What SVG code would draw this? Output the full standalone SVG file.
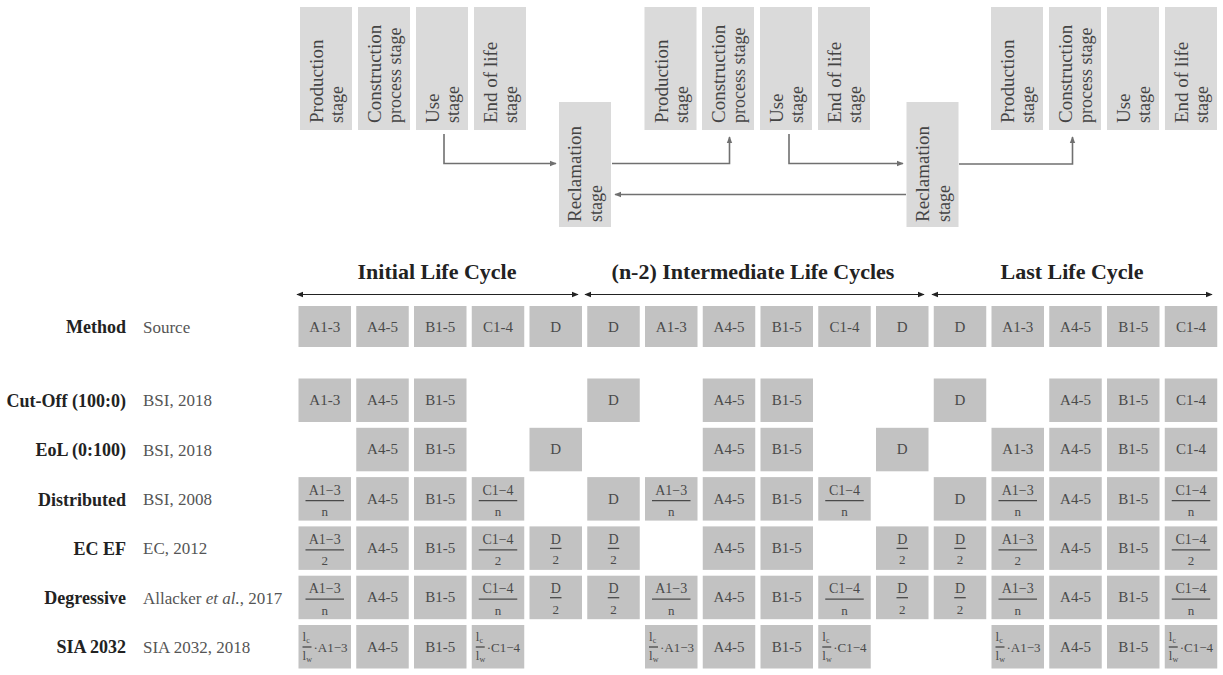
<svg xmlns="http://www.w3.org/2000/svg" width="1223" height="675" viewBox="0 0 1223 675">
<style>
  .bg{fill:#ffffff}
  .cell rect{fill:#c2c2c2}
  .ct{font-family:"Liberation Serif",serif;font-size:15px;fill:#4a4a4a;text-anchor:middle}
  .num{font-size:14px}
  .den{font-size:13px}
  .sm{font-family:"Liberation Serif",serif;font-size:13px;fill:#4a4a4a}
  .sia{font-family:"Liberation Serif",serif;font-size:13px;fill:#4a4a4a}
  .bar{stroke:#4a4a4a;stroke-width:1.3}
  .stage rect{fill:#dadada}
  .st1{font-family:"Liberation Serif",serif;font-size:19px;fill:#444}
  .st2{font-family:"Liberation Serif",serif;font-size:18px;fill:#444}
  .lab{font-family:"Liberation Serif",serif;font-size:18px;font-weight:bold;fill:#222;text-anchor:end}
  .src{font-family:"Liberation Serif",serif;font-size:17px;fill:#555}
  .hdr{font-family:"Liberation Serif",serif;font-size:22px;font-weight:bold;fill:#222;text-anchor:middle}
  .conn{stroke:#707070;stroke-width:1.6;fill:none}
  .span{stroke:#222;stroke-width:1;fill:none}
</style>
<defs>
  <marker id="arrG" viewBox="0 0 10 10" refX="9" refY="5" markerWidth="7" markerHeight="7" markerUnits="userSpaceOnUse" orient="auto-start-reverse"><path d="M0,1 L10,5 L0,9 z" fill="#707070"/></marker>
  <marker id="arrK" viewBox="0 0 10 10" refX="9" refY="5" markerWidth="7" markerHeight="7" markerUnits="userSpaceOnUse" orient="auto-start-reverse"><path d="M0,1 L10,5 L0,9 z" fill="#222"/></marker>
</defs>
<rect class="bg" x="0" y="0" width="1223" height="675"/>

<!-- Stage boxes -->
<g id="stage-prod-1" class="stage"><rect x="300" y="7" width="52" height="123"/><text class="st1" transform="translate(323,123) rotate(-90)">Production</text><text class="st2" transform="translate(343,123) rotate(-90)">stage</text></g>
<g id="stage-cons-1" class="stage"><rect x="358" y="7" width="52" height="123"/><text class="st1" transform="translate(381,123) rotate(-90)">Construction</text><text class="st2" transform="translate(401,123) rotate(-90)">process stage</text></g>
<g id="stage-use-1" class="stage"><rect x="416" y="7" width="52" height="123"/><text class="st1" transform="translate(439,123) rotate(-90)">Use</text><text class="st2" transform="translate(459,123) rotate(-90)">stage</text></g>
<g id="stage-eol-1" class="stage"><rect x="474" y="7" width="52" height="123"/><text class="st1" transform="translate(497,123) rotate(-90)">End of life</text><text class="st2" transform="translate(517,123) rotate(-90)">stage</text></g>
<g id="stage-rec-1" class="stage"><rect x="559" y="102" width="52" height="125"/><text class="st1" transform="translate(581,222) rotate(-90)">Reclamation</text><text class="st2" transform="translate(602,222) rotate(-90)">stage</text></g>
<g id="stage-prod-2" class="stage"><rect x="644.5" y="7" width="52" height="123"/><text class="st1" transform="translate(667.5,123) rotate(-90)">Production</text><text class="st2" transform="translate(687.5,123) rotate(-90)">stage</text></g>
<g id="stage-cons-2" class="stage"><rect x="702" y="7" width="52" height="123"/><text class="st1" transform="translate(725,123) rotate(-90)">Construction</text><text class="st2" transform="translate(745,123) rotate(-90)">process stage</text></g>
<g id="stage-use-2" class="stage"><rect x="760" y="7" width="52" height="123"/><text class="st1" transform="translate(783,123) rotate(-90)">Use</text><text class="st2" transform="translate(803,123) rotate(-90)">stage</text></g>
<g id="stage-eol-2" class="stage"><rect x="818" y="7" width="52" height="123"/><text class="st1" transform="translate(841,123) rotate(-90)">End of life</text><text class="st2" transform="translate(861,123) rotate(-90)">stage</text></g>
<g id="stage-rec-2" class="stage"><rect x="906.5" y="102" width="52" height="125"/><text class="st1" transform="translate(928.5,222) rotate(-90)">Reclamation</text><text class="st2" transform="translate(949.5,222) rotate(-90)">stage</text></g>
<g id="stage-prod-3" class="stage"><rect x="991" y="7" width="52" height="123"/><text class="st1" transform="translate(1014,123) rotate(-90)">Production</text><text class="st2" transform="translate(1034,123) rotate(-90)">stage</text></g>
<g id="stage-cons-3" class="stage"><rect x="1049" y="7" width="52" height="123"/><text class="st1" transform="translate(1072,123) rotate(-90)">Construction</text><text class="st2" transform="translate(1092,123) rotate(-90)">process stage</text></g>
<g id="stage-use-3" class="stage"><rect x="1107" y="7" width="52" height="123"/><text class="st1" transform="translate(1130,123) rotate(-90)">Use</text><text class="st2" transform="translate(1150,123) rotate(-90)">stage</text></g>
<g id="stage-eol-3" class="stage"><rect x="1165" y="7" width="52" height="123"/><text class="st1" transform="translate(1188,123) rotate(-90)">End of life</text><text class="st2" transform="translate(1208,123) rotate(-90)">stage</text></g>

<!-- Connectors -->
<g id="connectors">
  <path class="conn" d="M444,134 V163.5 H556" marker-end="url(#arrG)"/>
  <path class="conn" d="M612,163.5 H729.5 V137" marker-end="url(#arrG)"/>
  <path class="conn" d="M789,134 V163.5 H903" marker-end="url(#arrG)"/>
  <path class="conn" d="M906,194.5 H615" marker-end="url(#arrG)"/>
  <path class="conn" d="M959,164 H1072.5 V137" marker-end="url(#arrG)"/>
</g>

<!-- Life cycle headers -->
<g id="cycle-headers">
  <text class="hdr" x="437" y="279">Initial Life Cycle</text>
  <text class="hdr" x="753" y="279">(n-2) Intermediate Life Cycles</text>
  <text class="hdr" x="1072" y="279">Last Life Cycle</text>
  <path class="span" d="M297,294.5 H578" marker-start="url(#arrK)" marker-end="url(#arrK)"/>
  <path class="span" d="M585,294.5 H924" marker-start="url(#arrK)" marker-end="url(#arrK)"/>
  <path class="span" d="M932,294.5 H1212" marker-start="url(#arrK)" marker-end="url(#arrK)"/>
</g>

<!-- Row labels -->
<g id="row-labels">
  <text class="lab" x="126" y="333">Method</text><text class="src" x="143" y="332.5">Source</text>
  <text class="lab" x="126" y="406.5">Cut-Off (100:0)</text><text class="src" x="143" y="406">BSI, 2018</text>
  <text class="lab" x="126" y="456">EoL (0:100)</text><text class="src" x="143" y="455.5">BSI, 2018</text>
  <text class="lab" x="126" y="505.5">Distributed</text><text class="src" x="143" y="505">BSI, 2008</text>
  <text class="lab" x="126" y="554.5">EC EF</text><text class="src" x="143" y="554">EC, 2012</text>
  <text class="lab" x="126" y="604">Degressive</text><text class="src" x="143" y="603.5">Allacker <tspan font-style="italic">et al.</tspan>, 2017</text>
  <text class="lab" x="126" y="653">SIA 2032</text><text class="src" x="143" y="652.5">SIA 2032, 2018</text>
</g>

<!-- Method row -->
<g id="row-method" class="cell">
  <g transform="translate(298.5,306)"><rect width="52.5" height="41"/><text class="ct" x="26.25" y="25.5">A1-3</text></g>
  <g transform="translate(356.25,306)"><rect width="52.5" height="41"/><text class="ct" x="26.25" y="25.5">A4-5</text></g>
  <g transform="translate(414,306)"><rect width="52.5" height="41"/><text class="ct" x="26.25" y="25.5">B1-5</text></g>
  <g transform="translate(471.75,306)"><rect width="52.5" height="41"/><text class="ct" x="26.25" y="25.5">C1-4</text></g>
  <g transform="translate(529.5,306)"><rect width="52.5" height="41"/><text class="ct" x="26.25" y="25.5">D</text></g>
  <g transform="translate(587.25,306)"><rect width="52.5" height="41"/><text class="ct" x="26.25" y="25.5">D</text></g>
  <g transform="translate(645,306)"><rect width="52.5" height="41"/><text class="ct" x="26.25" y="25.5">A1-3</text></g>
  <g transform="translate(702.75,306)"><rect width="52.5" height="41"/><text class="ct" x="26.25" y="25.5">A4-5</text></g>
  <g transform="translate(760.5,306)"><rect width="52.5" height="41"/><text class="ct" x="26.25" y="25.5">B1-5</text></g>
  <g transform="translate(818.25,306)"><rect width="52.5" height="41"/><text class="ct" x="26.25" y="25.5">C1-4</text></g>
  <g transform="translate(876,306)"><rect width="52.5" height="41"/><text class="ct" x="26.25" y="25.5">D</text></g>
  <g transform="translate(933.75,306)"><rect width="52.5" height="41"/><text class="ct" x="26.25" y="25.5">D</text></g>
  <g transform="translate(991.5,306)"><rect width="52.5" height="41"/><text class="ct" x="26.25" y="25.5">A1-3</text></g>
  <g transform="translate(1049.25,306)"><rect width="52.5" height="41"/><text class="ct" x="26.25" y="25.5">A4-5</text></g>
  <g transform="translate(1107,306)"><rect width="52.5" height="41"/><text class="ct" x="26.25" y="25.5">B1-5</text></g>
  <g transform="translate(1164.75,306)"><rect width="52.5" height="41"/><text class="ct" x="26.25" y="25.5">C1-4</text></g>
</g>

<!-- Cut-Off row -->
<g id="row-cutoff" class="cell">
  <g transform="translate(298.5,378.5)"><rect width="52.5" height="43.5"/><text class="ct" x="26.25" y="26.5">A1-3</text></g>
  <g transform="translate(356.25,378.5)"><rect width="52.5" height="43.5"/><text class="ct" x="26.25" y="26.5">A4-5</text></g>
  <g transform="translate(414,378.5)"><rect width="52.5" height="43.5"/><text class="ct" x="26.25" y="26.5">B1-5</text></g>
  <g transform="translate(587.25,378.5)"><rect width="52.5" height="43.5"/><text class="ct" x="26.25" y="26.5">D</text></g>
  <g transform="translate(702.75,378.5)"><rect width="52.5" height="43.5"/><text class="ct" x="26.25" y="26.5">A4-5</text></g>
  <g transform="translate(760.5,378.5)"><rect width="52.5" height="43.5"/><text class="ct" x="26.25" y="26.5">B1-5</text></g>
  <g transform="translate(933.75,378.5)"><rect width="52.5" height="43.5"/><text class="ct" x="26.25" y="26.5">D</text></g>
  <g transform="translate(1049.25,378.5)"><rect width="52.5" height="43.5"/><text class="ct" x="26.25" y="26.5">A4-5</text></g>
  <g transform="translate(1107,378.5)"><rect width="52.5" height="43.5"/><text class="ct" x="26.25" y="26.5">B1-5</text></g>
  <g transform="translate(1164.75,378.5)"><rect width="52.5" height="43.5"/><text class="ct" x="26.25" y="26.5">C1-4</text></g>
</g>

<!-- EoL row -->
<g id="row-eol" class="cell">
  <g transform="translate(356.25,427.8)"><rect width="52.5" height="43.5"/><text class="ct" x="26.25" y="26.5">A4-5</text></g>
  <g transform="translate(414,427.8)"><rect width="52.5" height="43.5"/><text class="ct" x="26.25" y="26.5">B1-5</text></g>
  <g transform="translate(529.5,427.8)"><rect width="52.5" height="43.5"/><text class="ct" x="26.25" y="26.5">D</text></g>
  <g transform="translate(702.75,427.8)"><rect width="52.5" height="43.5"/><text class="ct" x="26.25" y="26.5">A4-5</text></g>
  <g transform="translate(760.5,427.8)"><rect width="52.5" height="43.5"/><text class="ct" x="26.25" y="26.5">B1-5</text></g>
  <g transform="translate(876,427.8)"><rect width="52.5" height="43.5"/><text class="ct" x="26.25" y="26.5">D</text></g>
  <g transform="translate(991.5,427.8)"><rect width="52.5" height="43.5"/><text class="ct" x="26.25" y="26.5">A1-3</text></g>
  <g transform="translate(1049.25,427.8)"><rect width="52.5" height="43.5"/><text class="ct" x="26.25" y="26.5">A4-5</text></g>
  <g transform="translate(1107,427.8)"><rect width="52.5" height="43.5"/><text class="ct" x="26.25" y="26.5">B1-5</text></g>
  <g transform="translate(1164.75,427.8)"><rect width="52.5" height="43.5"/><text class="ct" x="26.25" y="26.5">C1-4</text></g>
</g>

<!-- Distributed row -->
<g id="row-distributed" class="cell">
  <g transform="translate(298.5,477.1)"><rect width="52.5" height="43.5"/><text class="ct num" x="26.25" y="17.5">A1−3</text><line class="bar" x1="7" x2="45.5" y1="23.5" y2="23.5"/><text class="ct den" x="26.25" y="39">n</text></g>
  <g transform="translate(356.25,477.1)"><rect width="52.5" height="43.5"/><text class="ct" x="26.25" y="26.5">A4-5</text></g>
  <g transform="translate(414,477.1)"><rect width="52.5" height="43.5"/><text class="ct" x="26.25" y="26.5">B1-5</text></g>
  <g transform="translate(471.75,477.1)"><rect width="52.5" height="43.5"/><text class="ct num" x="26.25" y="17.5">C1−4</text><line class="bar" x1="7" x2="45.5" y1="23.5" y2="23.5"/><text class="ct den" x="26.25" y="39">n</text></g>
  <g transform="translate(587.25,477.1)"><rect width="52.5" height="43.5"/><text class="ct" x="26.25" y="26.5">D</text></g>
  <g transform="translate(645,477.1)"><rect width="52.5" height="43.5"/><text class="ct num" x="26.25" y="17.5">A1−3</text><line class="bar" x1="7" x2="45.5" y1="23.5" y2="23.5"/><text class="ct den" x="26.25" y="39">n</text></g>
  <g transform="translate(702.75,477.1)"><rect width="52.5" height="43.5"/><text class="ct" x="26.25" y="26.5">A4-5</text></g>
  <g transform="translate(760.5,477.1)"><rect width="52.5" height="43.5"/><text class="ct" x="26.25" y="26.5">B1-5</text></g>
  <g transform="translate(818.25,477.1)"><rect width="52.5" height="43.5"/><text class="ct num" x="26.25" y="17.5">C1−4</text><line class="bar" x1="7" x2="45.5" y1="23.5" y2="23.5"/><text class="ct den" x="26.25" y="39">n</text></g>
  <g transform="translate(933.75,477.1)"><rect width="52.5" height="43.5"/><text class="ct" x="26.25" y="26.5">D</text></g>
  <g transform="translate(991.5,477.1)"><rect width="52.5" height="43.5"/><text class="ct num" x="26.25" y="17.5">A1−3</text><line class="bar" x1="7" x2="45.5" y1="23.5" y2="23.5"/><text class="ct den" x="26.25" y="39">n</text></g>
  <g transform="translate(1049.25,477.1)"><rect width="52.5" height="43.5"/><text class="ct" x="26.25" y="26.5">A4-5</text></g>
  <g transform="translate(1107,477.1)"><rect width="52.5" height="43.5"/><text class="ct" x="26.25" y="26.5">B1-5</text></g>
  <g transform="translate(1164.75,477.1)"><rect width="52.5" height="43.5"/><text class="ct num" x="26.25" y="17.5">C1−4</text><line class="bar" x1="7" x2="45.5" y1="23.5" y2="23.5"/><text class="ct den" x="26.25" y="39">n</text></g>
</g>

<!-- EC EF row -->
<g id="row-ecef" class="cell">
  <g transform="translate(298.5,526.4)"><rect width="52.5" height="43.5"/><text class="ct num" x="26.25" y="17.5">A1−3</text><line class="bar" x1="7" x2="45.5" y1="23.5" y2="23.5"/><text class="ct den" x="26.25" y="39">2</text></g>
  <g transform="translate(356.25,526.4)"><rect width="52.5" height="43.5"/><text class="ct" x="26.25" y="26.5">A4-5</text></g>
  <g transform="translate(414,526.4)"><rect width="52.5" height="43.5"/><text class="ct" x="26.25" y="26.5">B1-5</text></g>
  <g transform="translate(471.75,526.4)"><rect width="52.5" height="43.5"/><text class="ct num" x="26.25" y="17.5">C1−4</text><line class="bar" x1="7" x2="45.5" y1="23.5" y2="23.5"/><text class="ct den" x="26.25" y="39">2</text></g>
  <g transform="translate(529.5,526.4)"><rect width="52.5" height="43.5"/><text class="ct num" x="26.25" y="17.5">D</text><line class="bar" x1="20.5" x2="32" y1="22" y2="22"/><text class="ct den" x="26.25" y="38">2</text></g>
  <g transform="translate(587.25,526.4)"><rect width="52.5" height="43.5"/><text class="ct num" x="26.25" y="17.5">D</text><line class="bar" x1="20.5" x2="32" y1="22" y2="22"/><text class="ct den" x="26.25" y="38">2</text></g>
  <g transform="translate(702.75,526.4)"><rect width="52.5" height="43.5"/><text class="ct" x="26.25" y="26.5">A4-5</text></g>
  <g transform="translate(760.5,526.4)"><rect width="52.5" height="43.5"/><text class="ct" x="26.25" y="26.5">B1-5</text></g>
  <g transform="translate(876,526.4)"><rect width="52.5" height="43.5"/><text class="ct num" x="26.25" y="17.5">D</text><line class="bar" x1="20.5" x2="32" y1="22" y2="22"/><text class="ct den" x="26.25" y="38">2</text></g>
  <g transform="translate(933.75,526.4)"><rect width="52.5" height="43.5"/><text class="ct num" x="26.25" y="17.5">D</text><line class="bar" x1="20.5" x2="32" y1="22" y2="22"/><text class="ct den" x="26.25" y="38">2</text></g>
  <g transform="translate(991.5,526.4)"><rect width="52.5" height="43.5"/><text class="ct num" x="26.25" y="17.5">A1−3</text><line class="bar" x1="7" x2="45.5" y1="23.5" y2="23.5"/><text class="ct den" x="26.25" y="39">2</text></g>
  <g transform="translate(1049.25,526.4)"><rect width="52.5" height="43.5"/><text class="ct" x="26.25" y="26.5">A4-5</text></g>
  <g transform="translate(1107,526.4)"><rect width="52.5" height="43.5"/><text class="ct" x="26.25" y="26.5">B1-5</text></g>
  <g transform="translate(1164.75,526.4)"><rect width="52.5" height="43.5"/><text class="ct num" x="26.25" y="17.5">C1−4</text><line class="bar" x1="7" x2="45.5" y1="23.5" y2="23.5"/><text class="ct den" x="26.25" y="39">2</text></g>
</g>

<!-- Degressive row -->
<g id="row-degressive" class="cell">
  <g transform="translate(298.5,575.7)"><rect width="52.5" height="43.5"/><text class="ct num" x="26.25" y="17.5">A1−3</text><line class="bar" x1="7" x2="45.5" y1="23.5" y2="23.5"/><text class="ct den" x="26.25" y="39">n</text></g>
  <g transform="translate(356.25,575.7)"><rect width="52.5" height="43.5"/><text class="ct" x="26.25" y="26.5">A4-5</text></g>
  <g transform="translate(414,575.7)"><rect width="52.5" height="43.5"/><text class="ct" x="26.25" y="26.5">B1-5</text></g>
  <g transform="translate(471.75,575.7)"><rect width="52.5" height="43.5"/><text class="ct num" x="26.25" y="17.5">C1−4</text><line class="bar" x1="7" x2="45.5" y1="23.5" y2="23.5"/><text class="ct den" x="26.25" y="39">n</text></g>
  <g transform="translate(529.5,575.7)"><rect width="52.5" height="43.5"/><text class="ct num" x="26.25" y="17.5">D</text><line class="bar" x1="20.5" x2="32" y1="22" y2="22"/><text class="ct den" x="26.25" y="38">2</text></g>
  <g transform="translate(587.25,575.7)"><rect width="52.5" height="43.5"/><text class="ct num" x="26.25" y="17.5">D</text><line class="bar" x1="20.5" x2="32" y1="22" y2="22"/><text class="ct den" x="26.25" y="38">2</text></g>
  <g transform="translate(645,575.7)"><rect width="52.5" height="43.5"/><text class="ct num" x="26.25" y="17.5">A1−3</text><line class="bar" x1="7" x2="45.5" y1="23.5" y2="23.5"/><text class="ct den" x="26.25" y="39">n</text></g>
  <g transform="translate(702.75,575.7)"><rect width="52.5" height="43.5"/><text class="ct" x="26.25" y="26.5">A4-5</text></g>
  <g transform="translate(760.5,575.7)"><rect width="52.5" height="43.5"/><text class="ct" x="26.25" y="26.5">B1-5</text></g>
  <g transform="translate(818.25,575.7)"><rect width="52.5" height="43.5"/><text class="ct num" x="26.25" y="17.5">C1−4</text><line class="bar" x1="7" x2="45.5" y1="23.5" y2="23.5"/><text class="ct den" x="26.25" y="39">n</text></g>
  <g transform="translate(876,575.7)"><rect width="52.5" height="43.5"/><text class="ct num" x="26.25" y="17.5">D</text><line class="bar" x1="20.5" x2="32" y1="22" y2="22"/><text class="ct den" x="26.25" y="38">2</text></g>
  <g transform="translate(933.75,575.7)"><rect width="52.5" height="43.5"/><text class="ct num" x="26.25" y="17.5">D</text><line class="bar" x1="20.5" x2="32" y1="22" y2="22"/><text class="ct den" x="26.25" y="38">2</text></g>
  <g transform="translate(991.5,575.7)"><rect width="52.5" height="43.5"/><text class="ct num" x="26.25" y="17.5">A1−3</text><line class="bar" x1="7" x2="45.5" y1="23.5" y2="23.5"/><text class="ct den" x="26.25" y="39">n</text></g>
  <g transform="translate(1049.25,575.7)"><rect width="52.5" height="43.5"/><text class="ct" x="26.25" y="26.5">A4-5</text></g>
  <g transform="translate(1107,575.7)"><rect width="52.5" height="43.5"/><text class="ct" x="26.25" y="26.5">B1-5</text></g>
  <g transform="translate(1164.75,575.7)"><rect width="52.5" height="43.5"/><text class="ct num" x="26.25" y="17.5">C1−4</text><line class="bar" x1="7" x2="45.5" y1="23.5" y2="23.5"/><text class="ct den" x="26.25" y="39">n</text></g>
</g>

<!-- SIA 2032 row -->
<g id="row-sia" class="cell">
  <g transform="translate(298.5,625)"><rect width="52.5" height="43.5"/><text class="sm" x="4" y="16">l<tspan font-size="8" dy="2">c</tspan></text><line class="bar" x1="4" x2="13" y1="22" y2="22"/><text class="sm" x="4" y="35">l<tspan font-size="8" dy="2">w</tspan></text><text class="sia" x="15" y="26.5">·A1−3</text></g>
  <g transform="translate(356.25,625)"><rect width="52.5" height="43.5"/><text class="ct" x="26.25" y="26.5">A4-5</text></g>
  <g transform="translate(414,625)"><rect width="52.5" height="43.5"/><text class="ct" x="26.25" y="26.5">B1-5</text></g>
  <g transform="translate(471.75,625)"><rect width="52.5" height="43.5"/><text class="sm" x="4" y="16">l<tspan font-size="8" dy="2">c</tspan></text><line class="bar" x1="4" x2="13" y1="22" y2="22"/><text class="sm" x="4" y="35">l<tspan font-size="8" dy="2">w</tspan></text><text class="sia" x="15" y="26.5">·C1−4</text></g>
  <g transform="translate(645,625)"><rect width="52.5" height="43.5"/><text class="sm" x="4" y="16">l<tspan font-size="8" dy="2">c</tspan></text><line class="bar" x1="4" x2="13" y1="22" y2="22"/><text class="sm" x="4" y="35">l<tspan font-size="8" dy="2">w</tspan></text><text class="sia" x="15" y="26.5">·A1−3</text></g>
  <g transform="translate(702.75,625)"><rect width="52.5" height="43.5"/><text class="ct" x="26.25" y="26.5">A4-5</text></g>
  <g transform="translate(760.5,625)"><rect width="52.5" height="43.5"/><text class="ct" x="26.25" y="26.5">B1-5</text></g>
  <g transform="translate(818.25,625)"><rect width="52.5" height="43.5"/><text class="sm" x="4" y="16">l<tspan font-size="8" dy="2">c</tspan></text><line class="bar" x1="4" x2="13" y1="22" y2="22"/><text class="sm" x="4" y="35">l<tspan font-size="8" dy="2">w</tspan></text><text class="sia" x="15" y="26.5">·C1−4</text></g>
  <g transform="translate(991.5,625)"><rect width="52.5" height="43.5"/><text class="sm" x="4" y="16">l<tspan font-size="8" dy="2">c</tspan></text><line class="bar" x1="4" x2="13" y1="22" y2="22"/><text class="sm" x="4" y="35">l<tspan font-size="8" dy="2">w</tspan></text><text class="sia" x="15" y="26.5">·A1−3</text></g>
  <g transform="translate(1049.25,625)"><rect width="52.5" height="43.5"/><text class="ct" x="26.25" y="26.5">A4-5</text></g>
  <g transform="translate(1107,625)"><rect width="52.5" height="43.5"/><text class="ct" x="26.25" y="26.5">B1-5</text></g>
  <g transform="translate(1164.75,625)"><rect width="52.5" height="43.5"/><text class="sm" x="4" y="16">l<tspan font-size="8" dy="2">c</tspan></text><line class="bar" x1="4" x2="13" y1="22" y2="22"/><text class="sm" x="4" y="35">l<tspan font-size="8" dy="2">w</tspan></text><text class="sia" x="15" y="26.5">·C1−4</text></g>
</g>
</svg>
